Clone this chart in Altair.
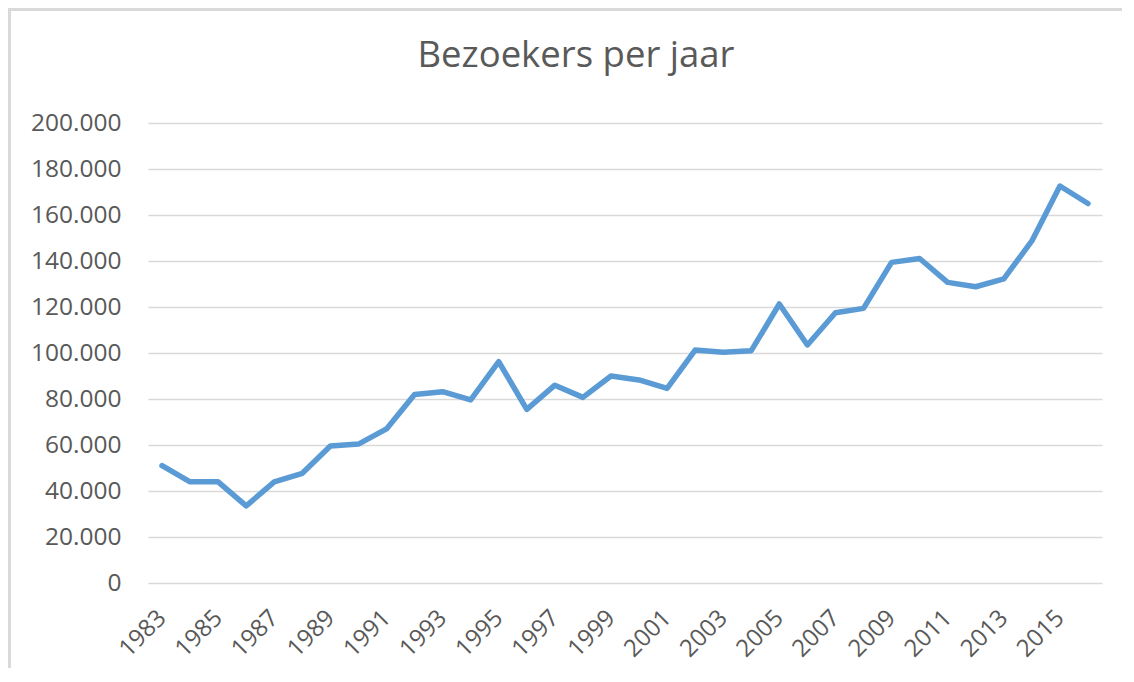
import altair as alt
import pandas as pd

years = list(range(1983, 2017))
visitors = [51000, 44000, 44000, 33500, 44000, 47700, 59600, 60400, 67000, 82000,
            83200, 79600, 96200, 75500, 86000, 80700, 90000, 88300, 84600, 101300,
            100300, 101000, 121300, 103500, 117500, 119400, 139400, 141100, 130700,
            128800, 132200, 148700, 172600, 165000]
tick_years = list(range(1983, 2016, 2))
y_ticks = list(range(0, 200001, 20000))
title_text = ["Bezoekers per jaar"]

df = pd.DataFrame({"jaar": years, "bezoekers": visitors})
df_title = pd.DataFrame({"t": title_text})

FONT = "Open Sans"
GREY = "#595959"

base = alt.Chart(df)

line = base.mark_line(color="#5B9BD5", strokeWidth=5.5, strokeCap="round",
                      strokeJoin="round").encode(
    x=alt.X("jaar:Q",
            scale=alt.Scale(domain=[1982.5, 2016.5], nice=False, zero=False),
            axis=alt.Axis(values=tick_years, format="d", labelAngle=-45,
                          labelAlign="right", labelBaseline="middle",
                          labelPadding=31, labelOverlap=False, labelFlush=False,
                          ticks=False, domain=False, grid=False, title=None,
                          labelFontSize=24, labelColor=GREY, labelFont=FONT)),
    y=alt.Y("bezoekers:Q",
            scale=alt.Scale(domain=[0, 200000], nice=False),
            axis=alt.Axis(values=y_ticks,
                          labelExpr="replace(format(datum.value, ','), ',', '.')",
                          ticks=False, domain=False, gridColor="#d9d9d9",
                          gridWidth=1.5, labelPadding=27, title=None,
                          labelFontSize=24.5, labelColor=GREY, labelFont=FONT)),
)

frame_left = base.mark_rule(color="#d9d9d9", strokeWidth=3).encode(
    x=alt.value(-139), y=alt.value(-115), y2=alt.value(545))
frame_top = base.mark_rule(color="#d9d9d9", strokeWidth=3).encode(
    x=alt.value(-140), x2=alt.value(974), y=alt.value(-114))

title = alt.Chart(df_title).mark_text(
    font=FONT, fontSize=36.5, color=GREY, align="center", baseline="alphabetic"
).encode(x=alt.value(428), y=alt.value(-56), text="t:N")

chart = alt.layer(frame_left, frame_top, title, line).properties(
    width=954, height=460,
    autosize=alt.AutoSizeParams(type="none"),
    padding={"left": 140, "top": 115, "right": 20, "bottom": 85},
    background="white",
).configure_view(stroke=None)

chart.save("out.html", embed_options={"renderer": "svg", "actions": False})
